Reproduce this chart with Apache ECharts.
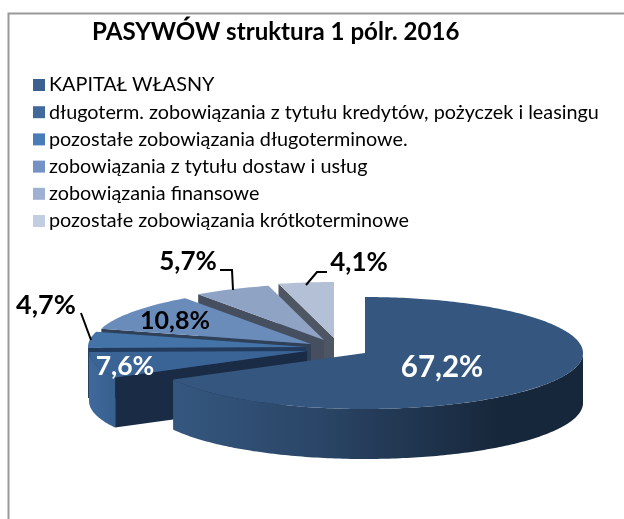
<!DOCTYPE html>
<html><head><meta charset="utf-8">
<style>html,body{margin:0;padding:0;background:#fff}#c{width:624px;height:519px}</style>
<script src="https://cdn.jsdelivr.net/npm/echarts@6/dist/echarts.min.js"></script>
</head><body><div id="c"></div>
<script>
const categories = ['KAPITAŁ WŁASNY','długoterm. zobowiązania z tytułu kredytów, pożyczek i leasingu','pozostałe zobowiązania długoterminowe.','zobowiązania z tytułu dostaw i usług','zobowiązania finansowe','pozostałe zobowiązania krótkoterminowe'];
const values = [67.2, 7.6, 4.7, 10.8, 5.7, 4.1];
const titleText = 'PASYWÓW struktura 1 pólr. 2016';

// styling / layout (not data)
const legendColors = ['#3c6090','#41699c','#4a7cb8','#7493c4','#9fb1d3','#c2cde2'];
const topColors = ['#35577f','#3a6496','#4473a8','#6a8cbb','#8fa3c4','#b4c0d6'];
const cutColors = ['#1a2b45','#1a2b45','#223a5c','#2f4059','#454f60','#4e5563'];
const apexes = [[365,353],[307,351],[306,347],[311,344],[324,340],[334,338]];
const labelPos = [[442,367],[125,366],[46,305],[175,321],[188,262],[359,263]];
const labelSizes = [29.5,26.5,27,25,26,26];
const labelColors = ['#fff','#fff','#000','#000','#000','#000'];
const leaders = [null,null,[[81,313],[91,340]],null,[[220,270],[232,270],[233,290]],[[327,272],[317,272],[306,285]]];
const RX=218, RY=56, DEPTH=50;
const sum = values.reduce((a,b)=>a+b,0);
const starts = []; values.reduce((a,v,i)=>(starts[i]=a,a+v),0);
const wallFill = [
 {type:'linear',x:173,y:0,x2:500,y2:0,global:true,colorStops:[{offset:0,color:'#35577f'},{offset:.45,color:'#2a4566'},{offset:1,color:'#17273b'}]},
 {type:'linear',x:88,y:0,x2:115,y2:0,global:true,colorStops:[{offset:0,color:'#41699c'},{offset:1,color:'#37608f'}]}
];
function pt(c,deg,dy){const r=deg*Math.PI/180;return [c[0]+RX*Math.sin(r),c[1]-RY*Math.cos(r)+(dy||0)];}
function arc(c,a,b,dy){const n=Math.max(2,Math.ceil(Math.abs(b-a)));const out=[];for(let i=0;i<=n;i++)out.push(pt(c,a+(b-a)*i/n,dy));return out;}

function renderSlice(params,api){
  const i=params.seriesIndex, v=api.value(0), s=api.value(1);
  const a=s/sum*360, b=(s+v)/sum*360, c=apexes[i];
  const children=[];
  const p=pt(c,a);
  children.push({type:'polygon',shape:{points:[p,c,[c[0],c[1]+DEPTH],[p[0],p[1]+DEPTH]]},style:{fill:cutColors[i]}});
  const f0=Math.max(a,90), f1=Math.min(b,270);
  if(f1>f0){
    const top=arc(c,f0,f1,0), bot=arc(c,f1,f0,DEPTH);
    children.push({type:'polygon',shape:{points:top.concat(bot)},style:{fill:wallFill[i]||topColors[i]}});
  }
  children.push({type:'polygon',shape:{points:[c].concat(arc(c,a,b,0))},style:{fill:topColors[i]}});
  return {type:'group',children};
}
function renderLabels(params,api){
  const i=params.dataIndex, v=api.value(0);
  const children=[{type:'text',style:{x:labelPos[i][0],y:labelPos[i][1],text:v.toFixed(1).replace('.',',')+'%',
    fill:labelColors[i],font:'bold '+labelSizes[i]+'px Lato',align:'center',verticalAlign:'middle'}}];
  if(leaders[i]) children.push({type:'polyline',shape:{points:leaders[i]},style:{stroke:'#000',lineWidth:2,fill:'none'}});
  return {type:'group',children};
}
const series = categories.map((name,i)=>({
  type:'custom',name,coordinateSystem:'none',silent:true,z:10-i,
  itemStyle:{color:legendColors[i]},
  renderItem:renderSlice,data:[[values[i],starts[i]]]
}));
series.push({type:'custom',name:'labels',coordinateSystem:'none',silent:true,z:20,renderItem:renderLabels,data:values.map(v=>[v])});

const chart=echarts.init(document.getElementById('c'),null,{renderer:'canvas'});
chart.setOption({
  animation:false,backgroundColor:'#fff',
  title:{text:titleText,left:92,top:20,padding:0,textStyle:{fontFamily:'Lato',fontWeight:'bold',fontSize:24.1,color:'#000'}},
  legend:{orient:'vertical',left:33,top:75,padding:0,itemWidth:12,itemHeight:12,itemGap:7.2,selectedMode:false,
    icon:'rect',data:categories.map((name,i)=>({name,itemStyle:{color:legendColors[i]}})),
    textStyle:{fontFamily:'Lato',fontSize:19.8,color:'#000',padding:[0,0,0,-1],height:15,lineHeight:15}},
  graphic:[{type:'polyline',z:0,silent:true,shape:{points:[[8.5,519],[8.5,13.5],[624,13.5]]},style:{stroke:'#999',lineWidth:2,fill:'none'}}],
  series
});
</script></body></html>
